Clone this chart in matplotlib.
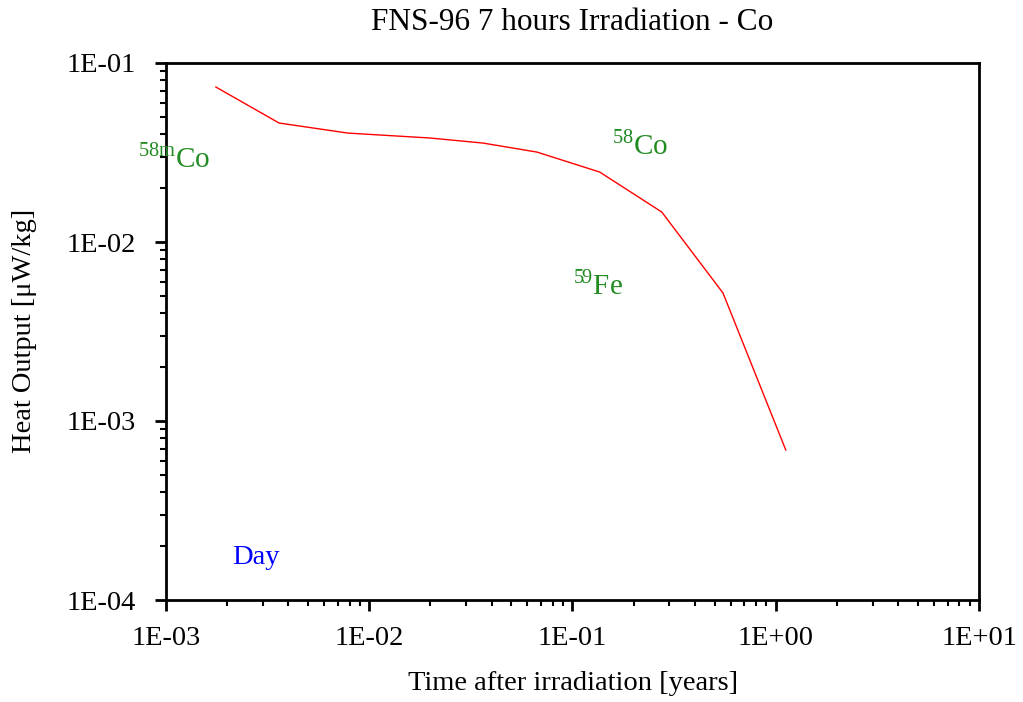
import numpy as np
import matplotlib
matplotlib.use("Agg")
import matplotlib.pyplot as plt
from matplotlib.ticker import LogLocator, FixedLocator, NullFormatter

plt.rcParams['font.family'] = ['Liberation Serif', 'DejaVu Serif']
plt.rcParams['mathtext.fontset'] = 'custom'
plt.rcParams['mathtext.rm'] = 'Liberation Serif'

# time after irradiation [years] and heat output [uW/kg]
time_years = [1.76e-3, 3.6e-3, 7.85e-3, 0.0199, 0.0363, 0.0668, 0.136, 0.275, 0.55, 1.12]
heat_output = [0.0734, 0.0462, 0.0406, 0.0381, 0.0357, 0.0318, 0.0246, 0.0147, 0.00519, 0.000689]

x_ticks = [1e-3, 1e-2, 1e-1, 1e0, 1e1]
x_labels = ["1E-03", "1E-02", "1E-01", "1E+00", "1E+01"]
y_ticks = [1e-4, 1e-3, 1e-2, 1e-1]
y_labels = ["1E-04", "1E-03", "1E-02", "1E-01"]

W, H = 1023, 702
fig = plt.figure(figsize=(W/100, H/100), dpi=100)
ax = fig.add_axes([166/W, 1-600/H, (979-166)/W, (600-63)/H])

ax.plot(time_years, heat_output, color='red', lw=1)

ax.set_xscale('log')
ax.set_yscale('log')
ax.set_xlim(1e-3, 1e1)
ax.set_ylim(1e-4, 1e-1)

ax.xaxis.set_major_locator(FixedLocator(x_ticks))
ax.set_xticklabels(x_labels)
ax.yaxis.set_major_locator(FixedLocator(y_ticks))
ax.set_yticklabels(y_labels)
ax.xaxis.set_minor_locator(LogLocator(base=10, subs=np.arange(2, 10)))
ax.yaxis.set_minor_locator(LogLocator(base=10, subs=np.arange(2, 10)))
ax.xaxis.set_minor_formatter(NullFormatter())
ax.yaxis.set_minor_formatter(NullFormatter())

for s in ax.spines.values():
    s.set_linewidth(2)
ax.tick_params(which='major', direction='out', length=8, width=2, labelsize=20.5,
               top=False, right=False)
ax.tick_params(axis='x', which='major', pad=11)
ax.tick_params(axis='y', which='major', pad=14)
ax.tick_params(which='minor', direction='out', length=4, width=1.5,
               top=False, right=False)

fig.text(572/W, 1-22/H, "FNS-96 7 hours Irradiation - Co", fontsize=22.5,
         ha='center', va='center')
fig.text(573/W, 1-683/H, "Time after irradiation [years]", fontsize=20.5,
         ha='center', va='center')
fig.text(25/W, 1-331/H, "Heat Output [\u03bcW/kg]", fontsize=20.5,
         ha='center', va='center', rotation=90)

green = '#228B22'
fig.text(138/W, 1-158/H, r"$^{58\mathrm{m}}$Co", color=green, fontsize=21, va='center')
fig.text(612/W, 1-145/H, r"$^{58}$Co", color=green, fontsize=21, va='center')
fig.text(573/W, 1-285/H, r"$^{59}$Fe", color=green, fontsize=21, va='center')
fig.text(232/W, 1-558/H, "Day", color='blue', fontsize=20.5, va='center')

fig.savefig("out.png", dpi=100)
